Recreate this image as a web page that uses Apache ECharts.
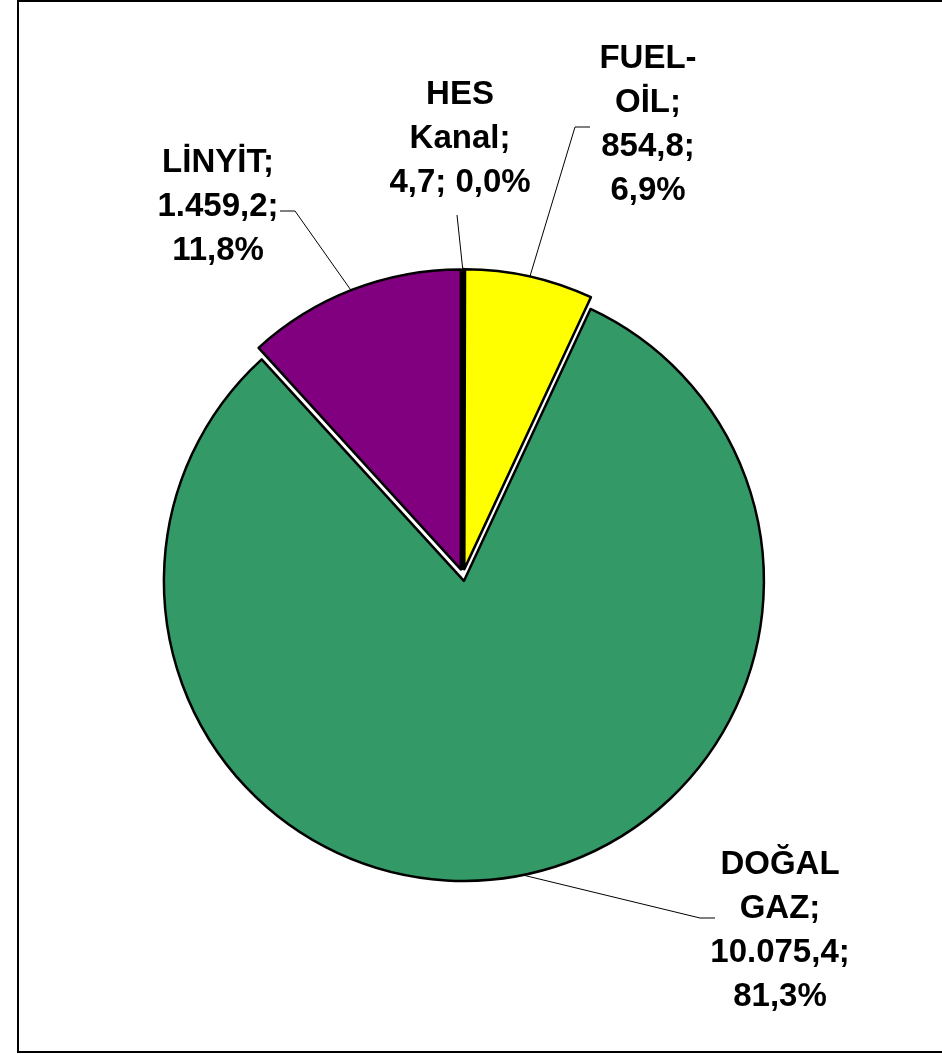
<!DOCTYPE html>
<html>
<head>
<meta charset="utf-8">
<script src="https://cdn.jsdelivr.net/npm/echarts@6/dist/echarts.min.js"></script>
<style>
  html, body { margin: 0; padding: 0; background: #fff; }
  #chart { width: 942px; height: 1054px; }
</style>
</head>
<body>
<div id="chart"></div>
<script>
// clockwise from 12 o'clock
const NAMES = ['HES\nKanal', 'FUEL-\nOİL', 'DOĞAL\nGAZ', 'LİNYİT'];
const VALUES = [4.7, 854.8, 10075.4, 1459.2];
const COLORS = ['#ffffcc', '#ffff00', '#339966', '#800080'];

// label centres and leader-line end offsets from the centre (layout only)
const LABEL_POS = [[460, 139], [648, 125], [780, 931], [218, 207]];
const LINE_END = [[-3, 76], [-58, 2], [-65, -13], [62, 4]];
const LINE_TAIL = [0, -15, -15, 15];

const total = VALUES.reduce((a, b) => a + b, 0);

function fmtTr(v) {
  const [i, d] = v.toFixed(1).split('.');
  return i.replace(/\B(?=(\d{3})+(?!\d))/g, '.') + ',' + d;
}

const chart = echarts.init(document.getElementById('chart'), null, { renderer: 'canvas' });

const base = {
  type: 'pie',
  center: [463, 575],
  radius: 300,
  startAngle: 90,
  clockwise: true,
  avoidLabelOverlap: false,
  emphasis: { disabled: true },
};

chart.setOption({
  backgroundColor: '#fff',
  animation: false,
  graphic: [{
    type: 'rect',
    shape: { x: 18, y: 1, width: 940, height: 1051 },
    style: { fill: 'none', stroke: '#000', lineWidth: 2 },
    silent: true,
  }],
  series: [
    // exploded slices
    Object.assign({}, base, {
      selectedMode: 'multiple',
      selectedOffset: 6,
      itemStyle: { borderColor: '#000', borderWidth: 2.5 },
      select: { itemStyle: { borderColor: '#000', borderWidth: 2.5 } },
      label: { show: false },
      labelLine: { show: false },
      data: NAMES.map((n, i) => ({
        name: n,
        value: VALUES[i],
        selected: true,
        itemStyle: { color: COLORS[i] },
      })),
    }),
    // labels
    Object.assign({}, base, {
      silent: true,
      itemStyle: { color: 'rgba(0,0,0,0)', borderWidth: 0 },
      label: {
        show: true,
        position: 'outside',
        color: '#000',
        fontFamily: 'Liberation Sans, Arial, sans-serif',
        fontWeight: 'bold',
        fontSize: 33,
        lineHeight: 44,
        align: 'center',
        formatter: p => {
          const pct = p.value / total * 100;
          const v = fmtTr(p.value) + ';';
          const d = fmtTr(pct) + '%';
          return p.name + ';\n' + v + (pct < 1 ? ' ' : '\n') + d;
        },
      },
      labelLine: {
        show: true,
        length: 20,
        length2: 15,
        lineStyle: { color: '#000', width: 1 },
      },
      labelLayout: p => {
        const i = p.dataIndex;
        const [cx, cy] = LABEL_POS[i];
        const out = { x: cx, y: cy, align: 'center', verticalAlign: 'middle' };
        const pts = p.labelLinePoints;
        if (pts && pts.length) {
          const start = pts[0];
          const end = [cx + LINE_END[i][0], cy + LINE_END[i][1]];
          const bend = LINE_TAIL[i] === 0
            ? [(start[0] + end[0]) / 2, (start[1] + end[1]) / 2]
            : [end[0] + LINE_TAIL[i], end[1]];
          out.labelLinePoints = [start, bend, end];
        }
        return out;
      },
      data: NAMES.map((n, i) => ({ name: n, value: VALUES[i] })),
    }),
  ],
});
</script>
</body>
</html>
